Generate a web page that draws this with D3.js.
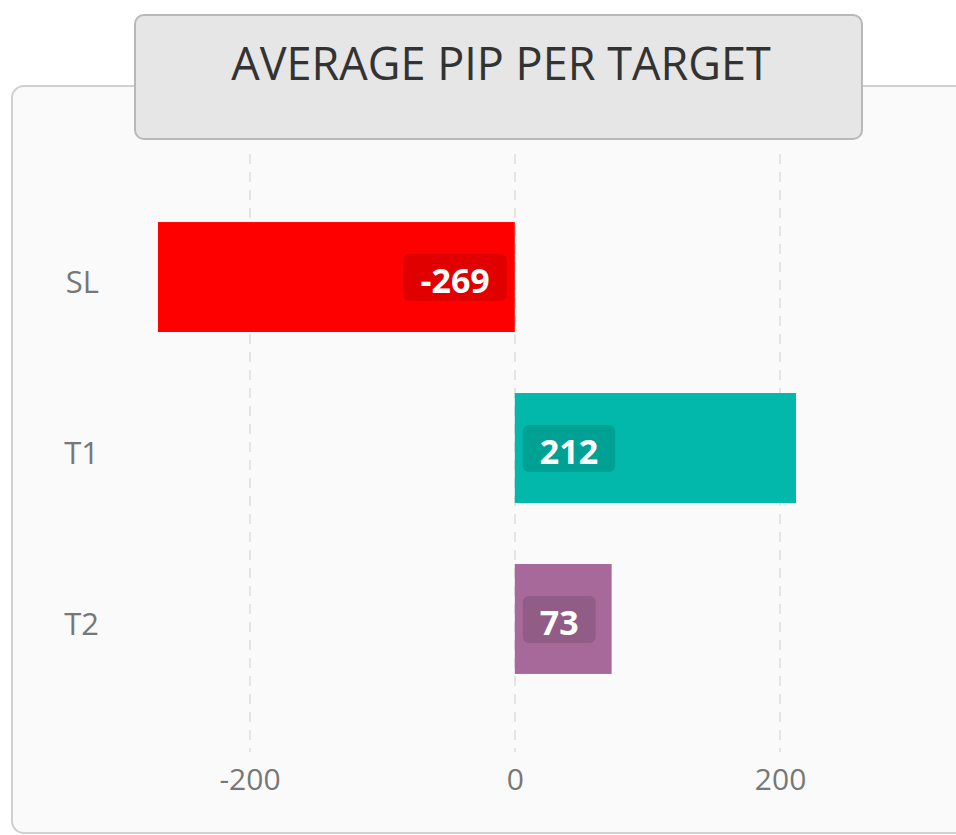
<!DOCTYPE html>
<html>
<head>
<meta charset="utf-8">
<script src="https://cdn.jsdelivr.net/npm/d3@7"></script>
<style>
  body { margin: 0; background: #fff; }
  text { font-family: "Open Sans", sans-serif; }
</style>
</head>
<body>
<div id="container"></div>
<script>
// chart data
const categories = ['SL', 'T1', 'T2'];
const values = [-269, 212, 73];
const colors = ['#ff0000', '#01b8aa', '#a66999'];
const tickValues = [-200, 0, 200];
const title = 'AVERAGE PIP PER TARGET';

const width = 956;
const height = 835;

const svg = d3.select('#container')
  .append('svg')
  .attr('width', width)
  .attr('height', height);

// panel background
svg.append('rect')
  .attr('x', 12).attr('y', 86)
  .attr('width', 1000).attr('height', 747)
  .attr('rx', 12)
  .attr('fill', '#fafafa')
  .attr('stroke', '#d0d0d0')
  .attr('stroke-width', 2);

// scales
const x = d3.scaleLinear()
  .domain(d3.extent([0, ...values]))
  .range([158, 796]);

const y = d3.scaleBand()
  .domain(categories)
  .range([154, 742])
  .paddingInner(0.357)
  .paddingOuter(0.398);

// gridlines
svg.append('g')
  .selectAll('line')
  .data(tickValues)
  .join('line')
  .attr('x1', d => Math.round(x(d))).attr('x2', d => Math.round(x(d)))
  .attr('y1', 154).attr('y2', 752)
  .attr('stroke', '#e4e4e4')
  .attr('stroke-width', 2)
  .attr('stroke-dasharray', '10,8');

// x axis
const xAxis = svg.append('g')
  .attr('transform', 'translate(0, 760)')
  .call(d3.axisBottom(x).tickValues(tickValues).tickFormat(d => String(d)).tickSize(0).tickPadding(0));
xAxis.select('.domain').remove();
xAxis.selectAll('text')
  .attr('dy', null)
  .attr('y', 30)
  .attr('fill', '#777')
  .style('font-size', '30px')
  .style('font-family', '"Open Sans", sans-serif');

// y labels
svg.append('g')
  .selectAll('text')
  .data(categories)
  .join('text')
  .attr('x', 99)
  .attr('y', d => y(d) + y.bandwidth() / 2 + 16)
  .attr('text-anchor', 'end')
  .attr('fill', '#777')
  .style('font-size', '31px')
  .text(d => d);

// bars
const data = categories.map((c, i) => ({ cat: c, value: values[i], color: colors[i] }));

svg.append('g')
  .selectAll('rect')
  .data(data)
  .join('rect')
  .attr('x', d => x(Math.min(0, d.value)))
  .attr('y', d => y(d.cat))
  .attr('width', d => Math.abs(x(d.value) - x(0)))
  .attr('height', y.bandwidth())
  .attr('fill', d => d.color);

// value badges
const badges = svg.append('g')
  .selectAll('g')
  .data(data)
  .join('g');

badges.append('text')
  .attr('class', 'val')
  .attr('y', d => y(d.cat) + y.bandwidth() / 2 + 16)
  .attr('fill', '#fff')
  .attr('font-weight', 'bold')
  .style('font-size', '34px')
  .attr('text-anchor', 'middle')
  .text(d => d.value);

badges.each(function (d) {
  const g = d3.select(this);
  const t = g.select('text');
  const w = t.node().getComputedTextLength() + 34;
  const cy = y(d.cat) + y.bandwidth() / 2;
  const bx = d.value < 0 ? x(0) - 8 - w : x(0) + 8;
  g.insert('rect', 'text')
    .attr('x', bx).attr('y', cy - 23)
    .attr('width', w).attr('height', 47)
    .attr('rx', 6)
    .attr('fill', 'rgba(0,0,0,0.12)');
  t.attr('x', bx + w / 2);
});

// title box
svg.append('rect')
  .attr('x', 135).attr('y', 15)
  .attr('width', 727).attr('height', 124)
  .attr('rx', 9)
  .attr('fill', '#e6e6e6')
  .attr('stroke', '#b8b8b8')
  .attr('stroke-width', 2);

svg.append('text')
  .attr('x', 501)
  .attr('y', 80)
  .attr('text-anchor', 'middle')
  .attr('fill', '#333')
  .style('font-size', '45px')
  .text(title);
</script>
</body>
</html>
